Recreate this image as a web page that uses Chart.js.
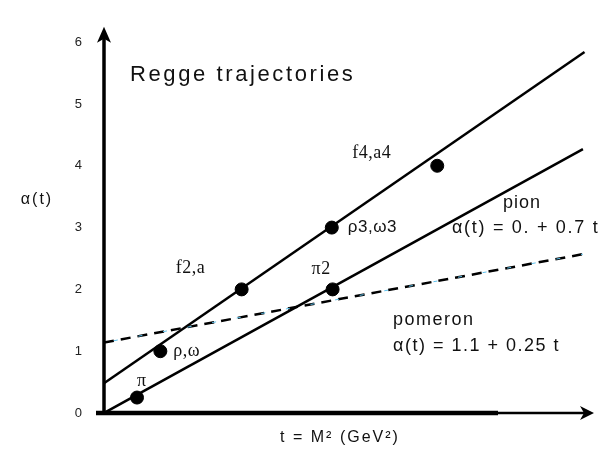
<!DOCTYPE html>
<html>
<head>
<meta charset="utf-8">
<script src="https://cdn.jsdelivr.net/npm/chart.js@4"></script>
<style>
  html, body { margin: 0; padding: 0; background: #fff; }
  #wrap { width: 606px; height: 450px; position: relative; }
</style>
</head>
<body>
<div id="wrap"><canvas id="reggeChart"></canvas></div>
<script>
// --- data ---
const yTicks = [0, 1, 2, 3, 4, 5, 6];

// resonances (t = M^2, alpha)
const resonanceNames = ['π', 'ρ,ω', 'f2,a', 'π2', 'ρ3,ω3', 'f4,a4'];
const resonanceT = [0.41, 0.70, 1.71, 2.84, 2.83, 4.14];
const resonanceAlpha = [0.25, 1.0, 2.0, 2.0, 3.0, 4.0];

// trajectory end points
const rhoT = [0, 5.97];
const rhoAlpha = [0.48, 5.84];
const pionT = [0, 5.95];
const pionAlpha = [0, 4.27];
const pomeronT = [0, 5.95];
const pomeronAlpha = [1.14, 2.57];

function toXY(ts, as) {
    return ts.map((t, i) => ({ x: t, y: as[i] }));
}

// label placement relative to each resonance marker (pixels)
const labelOffsets = [
    { dx: 0, dy: -16, font: '18px "Liberation Serif"' },
    { dx: 13, dy: 0, font: '18px "Liberation Serif"' },
    { dx: -66, dy: -21, font: '18px "Liberation Serif"' },
    { dx: -21, dy: -20, font: '18px "Liberation Serif"' },
    { dx: 16, dy: 0, font: '17px "Liberation Sans"' },
    { dx: -85, dy: -13, font: '18px "Liberation Serif"' }
];

const textBits = [
    { text: 'Regge trajectories', x: 130, y: 75, align: 'left', font: '22px "Liberation Sans"', spacing: '2.6px' },
    { text: 'pion', x: 522, y: 203, align: 'center', font: '18px "Liberation Sans"', spacing: '1px' },
    { text: 'α(t) = 0. + 0.7 t', x: 452, y: 228, align: 'left', font: '18px "Liberation Sans"', spacing: '1.7px' },
    { text: 'pomeron', x: 393, y: 320, align: 'left', font: '18px "Liberation Sans"', spacing: '1.5px' },
    { text: 'α(t) = 1.1 + 0.25 t', x: 393, y: 346, align: 'left', font: '18px "Liberation Sans"', spacing: '1.5px' },
    { text: 'α(t)', x: 37, y: 200, align: 'center', font: '16px "Liberation Sans"', spacing: '2px' },
    { text: 't = M² (GeV²)', x: 340, y: 438, align: 'center', font: '16px "Liberation Sans"', spacing: '2px' }
];

// axes with arrow heads + all the free text
const decorPlugin = {
    id: 'decor',
    afterDraw(chart) {
        const ctx = chart.ctx;
        const a = chart.chartArea;
        ctx.save();
        ctx.fillStyle = '#000';
        ctx.strokeStyle = '#000';

        // y axis
        ctx.lineWidth = 3.5;
        ctx.beginPath();
        ctx.moveTo(a.left, a.bottom + 2);
        ctx.lineTo(a.left, a.top + 8);
        ctx.stroke();
        ctx.beginPath();
        ctx.moveTo(a.left, a.top - 3);
        ctx.lineTo(a.left + 7, a.top + 13);
        ctx.lineTo(a.left, a.top + 9);
        ctx.lineTo(a.left - 7, a.top + 13);
        ctx.closePath();
        ctx.fill();

        // x axis
        ctx.lineWidth = 4.5;
        ctx.beginPath();
        ctx.moveTo(a.left - 8, a.bottom);
        ctx.lineTo(498, a.bottom);
        ctx.stroke();
        ctx.lineWidth = 2.5;
        ctx.beginPath();
        ctx.moveTo(498, a.bottom);
        ctx.lineTo(a.right - 8, a.bottom);
        ctx.stroke();
        ctx.beginPath();
        ctx.moveTo(a.right - 1, a.bottom);
        ctx.lineTo(a.right - 15, a.bottom - 7);
        ctx.lineTo(a.right - 11, a.bottom);
        ctx.lineTo(a.right - 15, a.bottom + 7);
        ctx.closePath();
        ctx.fill();

        // resonance labels
        const pts = chart.getDatasetMeta(4).data;
        ctx.fillStyle = '#111';
        ctx.textBaseline = 'middle';
        if ('letterSpacing' in ctx) ctx.letterSpacing = '0.5px';
        pts.forEach((p, i) => {
            const off = labelOffsets[i];
            ctx.font = off.font;
            ctx.textAlign = 'left';
            ctx.fillText(resonanceNames[i], p.x + off.dx, p.y + off.dy);
        });

        textBits.forEach(b => {
            ctx.font = b.font;
            if ('letterSpacing' in ctx) ctx.letterSpacing = b.spacing;
            ctx.textAlign = b.align;
            ctx.fillText(b.text, b.x, b.y);
        });
        ctx.restore();
    }
};

new Chart(document.getElementById('reggeChart'), {
    type: 'scatter',
    data: {
        datasets: [
            {
                label: 'pomeron (under)',
                data: toXY(pomeronT, pomeronAlpha),
                showLine: true,
                borderColor: '#5cc0ec',
                borderWidth: 1,
                borderDash: [4, 21],
                borderDashOffset: -10,
                pointRadius: 0
            },
            {
                label: 'pomeron',
                data: toXY(pomeronT, pomeronAlpha),
                showLine: true,
                borderColor: '#000',
                borderWidth: 2.5,
                borderDash: [10, 7],
                pointRadius: 0
            },
            {
                label: 'rho / f',
                data: toXY(rhoT, rhoAlpha),
                showLine: true,
                borderColor: '#000',
                borderWidth: 2.5,
                pointRadius: 0
            },
            {
                label: 'pion',
                data: toXY(pionT, pionAlpha),
                showLine: true,
                borderColor: '#000',
                borderWidth: 2.5,
                pointRadius: 0
            },
            {
                label: 'resonances',
                data: toXY(resonanceT, resonanceAlpha),
                backgroundColor: '#000',
                borderColor: '#000',
                pointRadius: 6.5,
                pointHoverRadius: 6.5
            }
        ]
    },
    options: {
        responsive: true,
        maintainAspectRatio: false,
        animation: false,
        layout: { padding: { left: 0, top: 12, right: 11, bottom: 37 } },
        plugins: { legend: { display: false }, tooltip: { enabled: false } },
        scales: {
            x: { type: 'linear', min: 0, max: 6.1, display: false },
            y: {
                type: 'linear',
                min: 0,
                max: 6.2,
                afterBuildTicks: (scale) => { scale.ticks = yTicks.map(v => ({ value: v })); },
                afterFit: (scale) => { scale.width = 104; },
                grid: { display: false, drawTicks: false },
                border: { display: false },
                ticks: {
                    padding: 22,
                    color: '#222',
                    font: { family: 'Liberation Sans', size: 13 }
                }
            }
        }
    },
    plugins: [decorPlugin]
});
</script>
</body>
</html>
